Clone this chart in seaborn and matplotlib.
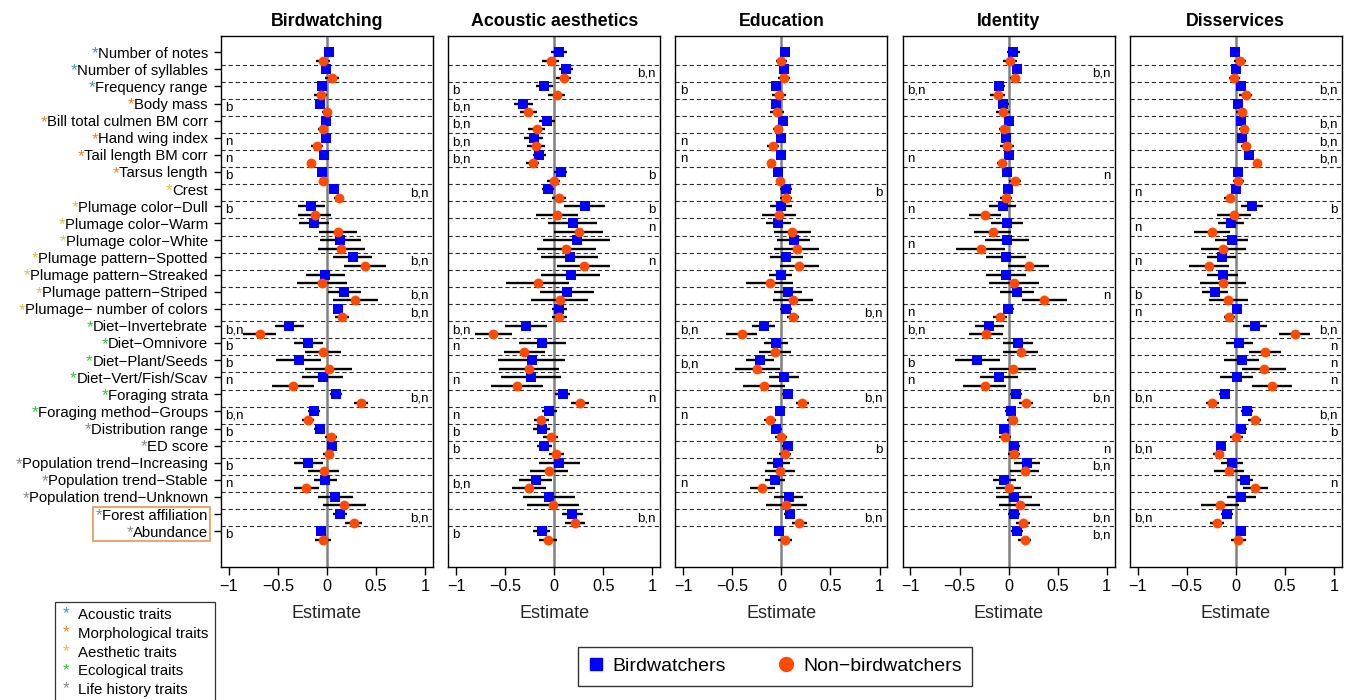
import numpy as np
import pandas as pd
import matplotlib.pyplot as plt
import seaborn as sns
from matplotlib.lines import Line2D
from matplotlib.patches import Rectangle
from matplotlib.text import Text
from matplotlib.legend_handler import HandlerBase

# ── Traits (rows, top to bottom) ────────────────────────────
traits = ['Number of notes', 'Number of syllables', 'Frequency range', 'Body mass',
          'Bill total culmen BM corr', 'Hand wing index', 'Tail length BM corr', 'Tarsus length',
          'Crest', 'Plumage color−Dull', 'Plumage color−Warm', 'Plumage color−White',
          'Plumage pattern−Spotted', 'Plumage pattern−Streaked', 'Plumage pattern−Striped',
          'Plumage− number of colors', 'Diet−Invertebrate', 'Diet−Omnivore', 'Diet−Plant/Seeds',
          'Diet−Vert/Fish/Scav', 'Foraging strata', 'Foraging method−Groups', 'Distribution range',
          'ED score', 'Population trend−Increasing', 'Population trend−Stable',
          'Population trend−Unknown', 'Forest affiliation', 'Abundance']
trait_group = (['Acoustic traits'] * 3 + ['Morphological traits'] * 5 + ['Aesthetic traits'] * 8
               + ['Ecological traits'] * 6 + ['Life history traits'] * 7)
group_names = ['Acoustic traits', 'Morphological traits', 'Aesthetic traits',
               'Ecological traits', 'Life history traits']
group_colors = ['#3A96D4', '#F0842A', '#D6C445', '#3CC03C', '#8A8A8A']

panel_titles = ['Birdwatching', 'Acoustic aesthetics', 'Education', 'Identity', 'Disservices']

# ── Estimates and CI half-widths (b = birdwatchers, n = non-birdwatchers) ──
bw_b    = [0.017, -0.007, -0.05, -0.068, -0.007, -0.007, -0.027, -0.05, 0.075, -0.16, -0.13, 0.136, 0.26, -0.017, 0.177,
           0.109, -0.384, -0.19, -0.29, -0.044, 0.095, -0.13, -0.075, 0.05, -0.19, -0.017, 0.085, 0.13, -0.061]
bw_b_ci = [0.05, 0.05, 0.05, 0.05, 0.05, 0.05, 0.03, 0.03, 0.04, 0.14, 0.155, 0.21, 0.195, 0.2, 0.17,
           0.05, 0.15, 0.15, 0.225, 0.21, 0.06, 0.06, 0.055, 0.05, 0.145, 0.115, 0.18, 0.07, 0.055]
bw_n    = [-0.044, 0.05, -0.065, 0.0, -0.04, -0.10, -0.16, -0.044, 0.12, -0.126, 0.11, 0.146, 0.385, -0.05, 0.29,
           0.156, -0.687, -0.04, 0.017, -0.347, 0.343, -0.194, 0.037, 0.017, -0.034, -0.21, 0.177, 0.27, -0.044]
bw_n_ci = [0.07, 0.07, 0.07, 0.05, 0.05, 0.06, 0.04, 0.03, 0.05, 0.17, 0.195, 0.24, 0.215, 0.255, 0.23,
           0.07, 0.17, 0.18, 0.24, 0.215, 0.07, 0.065, 0.06, 0.055, 0.16, 0.13, 0.22, 0.085, 0.08]

ac_b    = [0.048, 0.119, -0.1, -0.313, -0.075, -0.21, -0.15, 0.065, -0.065, 0.31, 0.187, 0.23, 0.156, 0.167, 0.126,
           0.054, -0.29, -0.12, -0.228, -0.238, 0.085, -0.05, -0.126, -0.1, 0.054, -0.19, -0.05, 0.184, -0.126]
ac_b_ci = [0.08, 0.075, 0.09, 0.1, 0.08, 0.1, 0.07, 0.07, 0.06, 0.21, 0.25, 0.34, 0.29, 0.3, 0.275,
           0.08, 0.215, 0.24, 0.34, 0.305, 0.08, 0.075, 0.085, 0.08, 0.205, 0.17, 0.265, 0.105, 0.085]
ac_n    = [-0.037, 0.095, 0.024, -0.262, -0.177, -0.184, -0.218, -0.007, 0.048, 0.03, 0.248, 0.122, 0.303, -0.167, 0.058,
           0.054, -0.62, -0.306, -0.255, -0.384, 0.265, -0.132, -0.037, 0.02, -0.05, -0.255, -0.017, 0.214, -0.065]
ac_n_ci = [0.09, 0.075, 0.09, 0.09, 0.085, 0.09, 0.065, 0.07, 0.07, 0.215, 0.245, 0.3, 0.27, 0.32, 0.29,
           0.08, 0.19, 0.21, 0.305, 0.265, 0.09, 0.075, 0.08, 0.075, 0.195, 0.17, 0.265, 0.1, 0.09]

ed_b    = [0.034, 0.024, -0.058, -0.05, 0.017, -0.007, -0.007, -0.03, 0.05, -0.007, -0.03, 0.126, 0.05, -0.007, 0.065,
           0.05, -0.18, -0.054, -0.22, 0.027, 0.065, -0.017, -0.05, 0.065, -0.03, -0.068, 0.075, 0.085, -0.024]
ed_b_ci = [0.05, 0.045, 0.05, 0.05, 0.045, 0.045, 0.04, 0.04, 0.06, 0.11, 0.13, 0.17, 0.165, 0.115, 0.14,
           0.06, 0.115, 0.12, 0.14, 0.155, 0.055, 0.05, 0.055, 0.055, 0.115, 0.1, 0.15, 0.055, 0.055]
ed_n    = [0.0, 0.024, -0.024, -0.048, -0.037, -0.085, -0.109, -0.017, 0.05, -0.024, 0.112, 0.156, 0.184, -0.119, 0.119,
           0.119, -0.405, -0.068, -0.245, -0.177, 0.214, -0.119, -0.007, 0.04, -0.017, -0.194, 0.05, 0.184, 0.037]
ed_n_ci = [0.06, 0.06, 0.07, 0.07, 0.05, 0.06, 0.04, 0.04, 0.06, 0.175, 0.185, 0.23, 0.2, 0.24, 0.2,
           0.065, 0.16, 0.165, 0.23, 0.215, 0.07, 0.06, 0.06, 0.06, 0.155, 0.125, 0.21, 0.08, 0.07]

id_b    = [0.048, 0.088, -0.095, -0.054, 0.007, -0.027, 0.007, -0.014, -0.003, -0.061, -0.014, -0.02, -0.027, -0.027, 0.088,
           -0.003, -0.197, 0.098, -0.32, -0.095, 0.075, 0.02, -0.048, 0.058, 0.19, -0.044, 0.054, 0.058, 0.088]
id_b_ci = [0.065, 0.045, 0.055, 0.055, 0.045, 0.05, 0.04, 0.045, 0.05, 0.135, 0.165, 0.225, 0.2, 0.205, 0.175,
           0.055, 0.15, 0.155, 0.23, 0.195, 0.065, 0.055, 0.05, 0.055, 0.13, 0.12, 0.18, 0.062, 0.06]
id_n    = [0.017, 0.065, -0.112, -0.058, -0.048, -0.02, -0.068, 0.068, -0.027, -0.24, -0.163, -0.282, 0.204, 0.058, 0.364,
           -0.088, -0.23, 0.122, 0.04, -0.245, 0.177, 0.04, -0.034, 0.058, 0.163, 0.0, 0.112, 0.143, 0.163]
id_n_ci = [0.07, 0.055, 0.075, 0.07, 0.05, 0.07, 0.05, 0.06, 0.065, 0.16, 0.185, 0.25, 0.21, 0.255, 0.23,
           0.068, 0.175, 0.18, 0.24, 0.22, 0.072, 0.06, 0.06, 0.062, 0.15, 0.13, 0.205, 0.072, 0.068]

ds_b    = [-0.01, 0.0, 0.058, 0.024, 0.058, 0.061, 0.133, 0.024, 0.0, 0.163, -0.051, -0.041, -0.143, -0.133, -0.214,
           0.01, 0.194, 0.037, 0.061, 0.01, -0.112, 0.112, 0.058, -0.146, -0.041, 0.092, 0.058, -0.092, 0.051]
ds_b_ci = [0.04, 0.045, 0.05, 0.045, 0.045, 0.045, 0.04, 0.045, 0.05, 0.11, 0.135, 0.17, 0.15, 0.16, 0.135,
           0.045, 0.12, 0.135, 0.18, 0.17, 0.056, 0.06, 0.056, 0.05, 0.11, 0.08, 0.145, 0.06, 0.05]
ds_n    = [0.044, -0.017, 0.102, 0.061, 0.085, 0.102, 0.221, 0.024, -0.061, -0.017, -0.241, -0.126, -0.276, -0.133, -0.075,
           -0.065, 0.6, 0.296, 0.286, 0.367, -0.238, 0.194, 0.007, -0.173, -0.071, 0.2, -0.16, -0.19, 0.024]
ds_n_ci = [0.06, 0.055, 0.068, 0.058, 0.05, 0.05, 0.04, 0.055, 0.055, 0.17, 0.185, 0.225, 0.205, 0.235, 0.2,
           0.06, 0.155, 0.16, 0.225, 0.205, 0.068, 0.065, 0.062, 0.055, 0.155, 0.125, 0.195, 0.07, 0.075]

# ── Significance notes: row index -> text (left / right side of panel) ──
bw_left  = {3: 'b', 5: 'n', 6: 'n', 7: 'b', 9: 'b', 16: 'b,n', 17: 'b', 18: 'b', 19: 'n',
            21: 'b,n', 22: 'b', 24: 'b', 25: 'n', 28: 'b'}
bw_right = {8: 'b,n', 12: 'b,n', 14: 'b,n', 15: 'b,n', 20: 'b,n', 27: 'b,n'}
ac_left  = {2: 'b', 3: 'b,n', 4: 'b,n', 5: 'b,n', 6: 'b,n', 16: 'b,n', 17: 'n', 19: 'n',
            21: 'n', 22: 'b', 23: 'b', 25: 'b,n', 28: 'b'}
ac_right = {1: 'b,n', 7: 'b', 9: 'b', 10: 'n', 12: 'n', 20: 'n', 27: 'b,n'}
ed_left  = {2: 'b', 5: 'n', 6: 'n', 16: 'b,n', 18: 'b,n', 21: 'n', 25: 'n'}
ed_right = {8: 'b', 15: 'b,n', 20: 'b,n', 23: 'b', 27: 'b,n'}
id_left  = {2: 'b,n', 6: 'n', 9: 'n', 11: 'n', 15: 'n', 16: 'b,n', 18: 'b', 19: 'n'}
id_right = {1: 'b,n', 7: 'n', 14: 'n', 20: 'b,n', 23: 'n', 24: 'b,n', 27: 'b,n', 28: 'b,n'}
ds_left  = {8: 'n', 10: 'n', 12: 'n', 14: 'b', 15: 'n', 20: 'b,n', 23: 'b,n', 27: 'b,n'}
ds_right = {2: 'b,n', 4: 'b,n', 5: 'b,n', 6: 'b,n', 9: 'b', 16: 'b,n', 17: 'n', 18: 'n',
            19: 'n', 21: 'b,n', 22: 'b', 25: 'n'}

panels = [
    (bw_b, bw_b_ci, bw_n, bw_n_ci, bw_left, bw_right),
    (ac_b, ac_b_ci, ac_n, ac_n_ci, ac_left, ac_right),
    (ed_b, ed_b_ci, ed_n, ed_n_ci, ed_left, ed_right),
    (id_b, id_b_ci, id_n, id_n_ci, id_left, id_right),
    (ds_b, ds_b_ci, ds_n, ds_n_ci, ds_left, ds_right),
]

BLUE = '#0000FF'
ORANGE = '#FF4A00'

# ── Style ───────────────────────────────────────────────────
sns.set_theme(style='ticks')
plt.rcParams['font.family'] = ['Liberation Sans', 'DejaVu Sans']
plt.rcParams['axes.edgecolor'] = 'black'
plt.rcParams['axes.linewidth'] = 1.0
plt.rcParams['xtick.color'] = 'black'
plt.rcParams['ytick.color'] = 'black'
plt.rcParams['text.color'] = 'black'

W, H = 1349, 700
fig = plt.figure(figsize=(W / 100, H / 100), dpi=100)

rows = np.arange(len(traits))
label_fs = 10.7
star_fs = 12.5

axes = []
for k, (b_est, b_ci, n_est, n_ci, notes_l, notes_r) in enumerate(panels):
    ax = fig.add_axes([(221 + 227.2 * k) / W, 1 - 566.7 / H, 212 / W, 530.7 / H])
    axes.append(ax)

    df = pd.DataFrame({
        'row': np.concatenate([rows, rows + 0.5]),
        'est': np.array(b_est + n_est),
        'ci': np.array(b_ci + n_ci),
        'group': ['Birdwatchers'] * len(rows) + ['Non-birdwatchers'] * len(rows),
    })

    # separators between traits
    for r in rows[:-1]:
        ax.axhline(r + 0.72, color='#2a2a2a', lw=0.8, dashes=(3.8, 2.6), zorder=0)
    ax.axvline(0, color='#808080', lw=1.8, zorder=1)

    ax.hlines(df['row'], df['est'] - df['ci'], df['est'] + df['ci'], color='black', lw=1.7, zorder=2)
    sns.scatterplot(data=df[df['group'] == 'Birdwatchers'], x='est', y='row', marker='s',
                    color=BLUE, s=42, linewidth=0, ax=ax, zorder=3, legend=False)
    sns.scatterplot(data=df[df['group'] == 'Non-birdwatchers'], x='est', y='row', marker='o',
                    color=ORANGE, s=50, linewidth=0, ax=ax, zorder=3, legend=False)

    for r, txt in notes_l.items():
        ax.text(-1.035, r + 0.25, txt, ha='left', va='center', fontsize=9.6)
    for r, txt in notes_r.items():
        ax.text(1.035, r + 0.25, txt, ha='right', va='center', fontsize=9.6)

    ax.set_xlim(-1.08, 1.08)
    ax.set_ylim(30.08, -0.95)
    ax.set_xticks([-1, -0.5, 0, 0.5, 1], labels=['−1', '−0.5', '0', '0.5', '1'])
    ax.tick_params(axis='x', length=6, width=1, pad=3, labelsize=11.7)
    ax.set_xlabel('Estimate', fontsize=13, labelpad=8)
    ax.set_ylabel('')
    ax.set_title(panel_titles[k], fontsize=12.8, fontweight='bold', pad=7)
    for sp in ax.spines.values():
        sp.set_visible(True)
        sp.set_color('black')

    if k == 0:
        ax.set_yticks(rows, labels=traits)
        ax.tick_params(axis='y', length=5, width=1, pad=4.5, labelsize=label_fs)
    else:
        ax.set_yticks([])

# ── Coloured asterisks in front of trait labels ─────────────
fig.canvas.draw()
renderer = fig.canvas.get_renderer()
ax0 = axes[0]
axbox = ax0.get_window_extent(renderer)
stars = []
for lab, r, grp in zip(ax0.get_yticklabels(), rows, trait_group):
    bb = lab.get_window_extent(renderer)
    xf = (bb.x0 - axbox.x0 + 0.5) / axbox.width
    st = ax0.text(xf, r, '*', transform=ax0.get_yaxis_transform(), ha='right', va='center_baseline',
                  color=group_colors[group_names.index(grp)], fontsize=star_fs, clip_on=False)
    stars.append(st)

# highlight box around the last two traits
fig.canvas.draw()
labs = ax0.get_yticklabels()
bbs = [stars[27].get_window_extent(renderer), stars[28].get_window_extent(renderer),
       labs[27].get_window_extent(renderer), labs[28].get_window_extent(renderer)]
x0 = min(b.x0 for b in bbs) - 3
x1 = max(b.x1 for b in bbs) + 2
y0 = min(b.y0 for b in bbs) - 1
y1 = max(b.y1 for b in bbs) + 1
fig.add_artist(Rectangle((x0 / W, y0 / H), (x1 - x0) / W, (y1 - y0) / H, transform=fig.transFigure,
                         fill=False, edgecolor='#EE9455', lw=1.2))


# ── Legends ────────────────────────────────────────────────
class StarHandler(HandlerBase):
    def create_artists(self, legend, orig_handle, xdescent, ydescent, width, height, fontsize, trans):
        t = Text(width / 2 - xdescent, height / 2 - ydescent, '*', color=orig_handle.get_color(),
                 fontsize=fontsize * 1.15, ha='center', va='center', transform=trans)
        return [t]


star_handles = [Line2D([], [], color=c) for c in group_colors]
leg1 = fig.legend(star_handles, group_names, loc='upper left', bbox_to_anchor=(55 / W, 1 - 602 / H),
                  handler_map={Line2D: StarHandler()}, fontsize=10.8, frameon=True, fancybox=False,
                  edgecolor='black', handlelength=0.7, handletextpad=0.45, labelspacing=0.32,
                  borderpad=0.4, borderaxespad=0)
leg1.get_frame().set_linewidth(0.9)

grp_handles = [Line2D([], [], marker='s', color=BLUE, ls='none', ms=9),
               Line2D([], [], marker='o', color=ORANGE, ls='none', ms=10)]
leg2 = fig.legend(grp_handles, ['Birdwatchers', 'Non−birdwatchers'], loc='center',
                  bbox_to_anchor=(775 / W, 1 - 666 / H), ncol=2, fontsize=14, frameon=True,
                  fancybox=False, edgecolor='black', handlelength=0.8, handletextpad=0.45,
                  columnspacing=2.7, borderpad=0.55)
leg2.get_frame().set_linewidth(1.0)

fig.savefig('out.png', dpi=100)
